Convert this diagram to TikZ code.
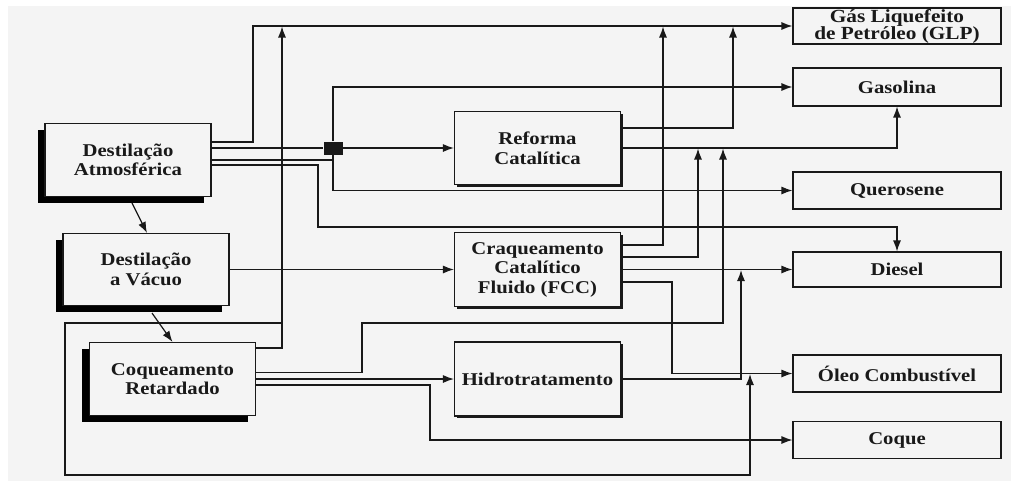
\documentclass[tikz,border=0pt]{standalone}
\usepackage{fontspec}
\setmainfont{Liberation Serif}[FakeStretch=1.15]
\usetikzlibrary{arrows.meta,shadows}
\definecolor{bg}{RGB}{244,244,244}
\definecolor{ink}{RGB}{25,25,25}
\begin{document}
\begin{tikzpicture}[x=1pt,y=-1pt,
  line/.style={draw=ink, line width=1.2pt},
  arr/.style={line, -{Latex[length=11pt,width=8pt]}},
  unit/.style={draw=ink, line width=1.1pt, fill=bg, align=center, inner sep=0pt, text=ink,
    font=\bfseries\fontsize{18}{19.5}\selectfont},
  lshadow/.style={drop shadow={shadow xshift=-7.5pt, shadow yshift=-6pt, fill=black, opacity=1}},
  mshadow/.style={drop shadow={shadow xshift=2.5pt, shadow yshift=-2pt, fill=ink, opacity=1}},
  leftbox/.style={unit, lshadow, minimum width=166pt, minimum height=73pt},
  midbox/.style={unit, mshadow, minimum width=166pt, minimum height=73pt},
  prodbox/.style={unit, minimum width=208pt, minimum height=37pt},
]
\useasboundingbox (0,0) rectangle (1011,483);
\fill[white] (0,0) rectangle (1011,483);
\fill[bg] (8,6) rectangle (1011,481);

% process units
\node[leftbox] (DA) at (128,160) {Destilação\\Atmosférica};
\node[leftbox, minimum height=72pt] (DV) at (146,269.5) {Destilação\\a Vácuo};
\node[leftbox] (CR) at (172.5,379) {Coqueamento\\Retardado};
\node[midbox] (RF) at (537.5,148) {Reforma\\Catalítica};
\node[midbox, minimum height=74pt] (FCC) at (537.5,269.5) {Craqueamento\\Catalítico\\Fluido (FCC)};
\node[midbox, minimum height=74pt] (HT) at (537.5,379) {Hidrotratamento};

% products
\node[prodbox, minimum height=36pt, font=\bfseries\fontsize{18.5}{17}\selectfont] (GLP) at (897,26) {Gás Liquefeito\\de Petróleo (GLP)};
\node[prodbox, minimum height=38pt] (GAS) at (897,87) {Gasolina};
\node[prodbox] (QUE) at (897,190.5) {Querosene};
\node[prodbox, minimum height=35pt] (DIE) at (897,269.5) {Diesel};
\node[prodbox] (OLEO) at (897,373.5) {Óleo Combustível};
\node[prodbox] (COQ) at (897,440) {Coque};

% splitter
\node[fill=ink, minimum width=19pt, minimum height=13pt, inner sep=0pt] (SQ) at (333,148) {};

% Destilacao Atmosferica outputs
\draw[arr] ([yshift=18pt]DA.east) -| (253,26) -- (GLP.west);
\draw[line] ([yshift=12pt]DA.east) -- (SQ.west);
\draw[arr] (SQ.east) -- (RF.west);
\draw[arr] (SQ.north) |- (GAS.west);
\draw[line] (SQ.south) -- (SQ.south |- DA.east);
\draw[arr] (DA.east) -| (SQ.south |- QUE.west) -- (QUE.west);
\draw[arr] ([yshift=-5pt]DA.east) -| (318,227) -| (DIE.north);
\draw[arr] ([xshift=4pt,yshift=-6pt]DA.south) -- ([xshift=1pt]DV.north);

% Destilacao a Vacuo
\draw[arr] ([xshift=6pt,yshift=-7pt]DV.south) -- (CR.north);
\draw[arr] (DV.east) -- (FCC.west);

% Reforma
\draw[arr] ([yshift=20pt]RF.east) -| (733,26.5);
\draw[arr] (RF.east) -| (GAS.south);

% FCC
\draw[arr] ([yshift=24.5pt]FCC.east) -| (663,26.5);
\draw[arr] ([yshift=12.5pt]FCC.east) -| (698,148.5);
\draw[arr] (FCC.east) -- (DIE.west);
\draw[arr] ([yshift=-12.5pt]FCC.east) -| (672,373.5) -- (OLEO.west);

% Coqueamento
\draw[arr] ([yshift=31pt]CR.east) -| (282,26.5);
\coordinate (J) at (282,323);
\draw[arr] ([yshift=6.5pt]CR.east) -| (362,323) -| (723,148.5);
\draw[arr] (CR.east) -- (HT.west);
\draw[arr] ([yshift=-6pt]CR.east) -| (430,440) -- (COQ.west);
\draw[arr] (J) -| (65,475) -| (750,374);

% Hidrotratamento
\draw[arr] (HT.east) -| (741,270);
\end{tikzpicture}
\end{document}
